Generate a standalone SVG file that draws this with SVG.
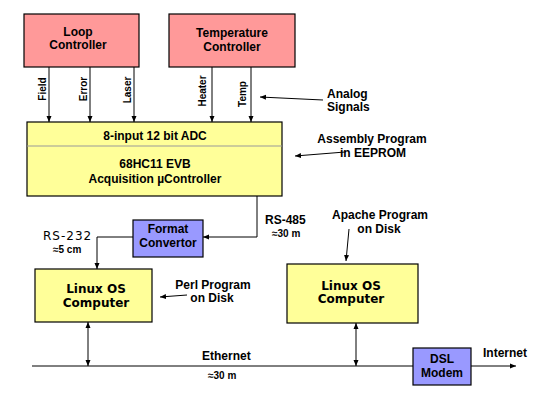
<svg xmlns="http://www.w3.org/2000/svg" width="540" height="400" viewBox="0 0 540 400">
<defs>
<marker id="ah" viewBox="0 0 6 6" refX="6" refY="3" markerWidth="6" markerHeight="6" markerUnits="userSpaceOnUse" orient="auto-start-reverse">
<path d="M0,0.5 L6,3 L0,5.5 Z" fill="#000"/>
</marker>
</defs>
<style>
.box{stroke:#000;stroke-width:1.2}
.pink{fill:#ff9999}
.yel{fill:#ffff99}
.blue{fill:#9999ff}
text{font-family:"Liberation Sans",Arial,sans-serif;font-weight:bold;font-size:12px;fill:#000}
.c{text-anchor:middle}
.s{font-size:10px}
.v{font-family:"DejaVu Sans",Verdana,sans-serif}
.ln{fill:none;stroke:#000;stroke-width:1}
.arr{marker-end:url(#ah)}
.dbl{marker-start:url(#ah);marker-end:url(#ah)}
</style>
<rect width="540" height="400" fill="#fff"/>

<g id="loop-controller">
<rect class="box pink" x="24" y="14" width="115" height="53"/>
<text class="c" x="78" y="36">Loop</text>
<text class="c" x="78" y="49">Controller</text>
</g>

<g id="temperature-controller">
<rect class="box pink" x="169" y="14" width="126" height="53"/>
<text class="c" x="232" y="37">Temperature</text>
<text class="c" x="232" y="51">Controller</text>
</g>

<g id="adc-controller">
<rect class="box yel" x="27" y="122" width="255" height="74"/>
<line x1="27" y1="146" x2="282" y2="146" stroke="#999" stroke-width="1"/>
<text class="c" x="155" y="140">8-input 12 bit ADC</text>
<text class="c" x="155" y="168">68HC11 EVB</text>
<text class="c" x="155" y="183">Acquisition µController</text>
</g>

<g id="format-convertor">
<rect class="box blue" x="133" y="220" width="70" height="37"/>
<text class="c" x="168" y="233">Format</text>
<text class="c" x="168" y="247">Convertor</text>
</g>

<g id="linux-left">
<rect class="box yel" x="35" y="269" width="117" height="53"/>
<text class="c v" x="96" y="293">Linux OS</text>
<text class="c v" x="96" y="307">Computer</text>
</g>

<g id="linux-right">
<rect class="box yel" x="287" y="264" width="131" height="59"/>
<text class="c v" x="351" y="290">Linux OS</text>
<text class="c v" x="351" y="303">Computer</text>
</g>

<g id="dsl-modem">
<rect class="box blue" x="413" y="348" width="58" height="37"/>
<text class="c" x="442" y="363">DSL</text>
<text class="c" x="442" y="377">Modem</text>
</g>

<g id="connectors">
<line class="ln arr" x1="49" y1="67" x2="49" y2="122"/>
<line class="ln arr" x1="90" y1="67" x2="90" y2="122"/>
<line class="ln arr" x1="134" y1="67" x2="134" y2="122"/>
<line class="ln arr" x1="212" y1="67" x2="212" y2="122"/>
<line class="ln arr" x1="251" y1="67" x2="251" y2="122"/>
<line class="ln arr" x1="323" y1="100" x2="260" y2="97"/>
<line class="ln arr" x1="345" y1="152" x2="295" y2="156"/>
<polyline class="ln arr" points="257,196 257,237 203,237"/>
<polyline class="ln arr" points="133,237 97,237 97,269"/>
<line class="ln arr" x1="187" y1="295" x2="160" y2="297"/>
<line class="ln arr" x1="349" y1="229" x2="346" y2="261"/>
<line class="ln" x1="32" y1="366" x2="413" y2="366"/>
<line class="ln arr" x1="471" y1="366" x2="516" y2="366"/>
<line class="ln dbl" x1="88" y1="322" x2="88" y2="366"/>
<line class="ln dbl" x1="356" y1="323" x2="356" y2="366"/>
</g>

<g id="labels">
<text class="c s" transform="translate(46,89) rotate(-90)">Field</text>
<text class="c s" transform="translate(87,89) rotate(-90)">Error</text>
<text class="c s" transform="translate(131,90) rotate(-90)">Laser</text>
<text class="c s" transform="translate(206,91) rotate(-90)">Heater</text>
<text class="c s" transform="translate(246,94) rotate(-90)">Temp</text>
<text x="327" y="98">Analog</text>
<text x="327" y="111">Signals</text>
<text class="c" x="372" y="143">Assembly Program</text>
<text class="c" x="373" y="157">in EEPROM</text>
<text x="265" y="224">RS-485</text>
<text class="s" x="272" y="237">≈30 m</text>
<text class="v" x="43" y="240" style="font-weight:normal;letter-spacing:1px">RS-232</text>
<text class="s" x="53" y="253">≈5 cm</text>
<text class="c" x="380" y="219">Apache Program</text>
<text class="c" x="379" y="233">on Disk</text>
<text class="c" x="213" y="289">Perl Program</text>
<text class="c" x="212" y="302">on Disk</text>
<text x="202" y="360">Ethernet</text>
<text class="s" x="208" y="379">≈30 m</text>
<text x="483" y="357">Internet</text>
</g>
</svg>
